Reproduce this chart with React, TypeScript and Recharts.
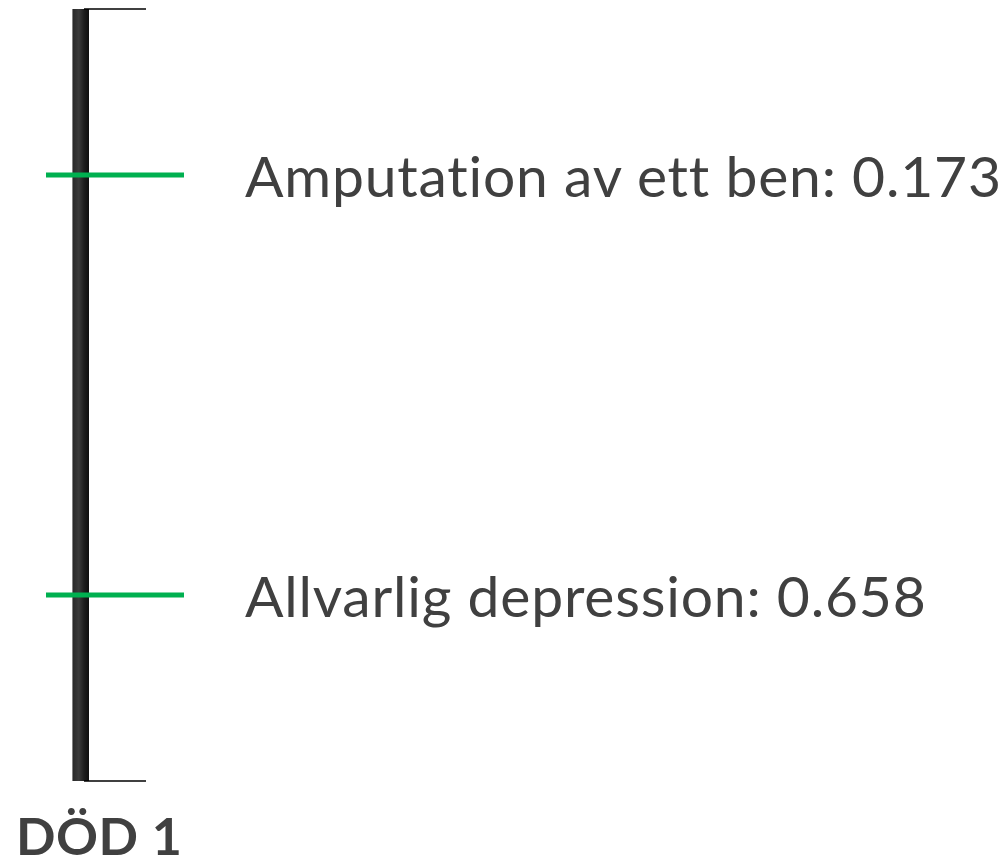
import {
  ComposedChart,
  XAxis,
  YAxis,
  Scatter,
  ReferenceArea,
  ReferenceLine,
} from "recharts";

// disability weights shown on the scale
const conditions = ["Amputation av ett ben", "Allvarlig depression"];
const weights = [0.173, 0.658];

const endLabel = "DÖD 1";

// value range covered by the drawn scale bar (top -> bottom)
const SCALE_TOP = -0.0187;
const SCALE_BOTTOM = 0.8728;

const TEXT = "#404040";
const GREEN = "#00B050";
const FONT = "Lato, 'Open Sans', sans-serif";

const MARK_X = 115;

const markers = conditions.map((name, i) => ({ name, weight: weights[i] }));

interface MarkerShapeProps {
  cx?: number;
  cy?: number;
  payload?: { name: string; weight: number };
}

function MarkerShape({ cx = 0, cy = 0, payload }: MarkerShapeProps) {
  if (!payload) return null;
  return (
    <g>
      <line x1={cx - 69} x2={cx + 69} y1={cy} y2={cy} stroke={GREEN} strokeWidth={5} />
      <text
        x={cx + 130}
        y={cy + 22}
        fill={TEXT}
        fontFamily={FONT}
        fontSize={57}
        letterSpacing={0.8}
        style={{ fontVariantLigatures: "none" }}
      >
        {`${payload.name}: ${payload.weight.toFixed(3)}`}
      </text>
    </g>
  );
}

export default function App() {
  return (
    <div style={{ position: "absolute", left: 0, top: 0, width: 1008, height: 866, background: "#fff" }}>
      <ComposedChart
        width={1008}
        height={866}
        data={markers}
        margin={{ top: 9, right: 0, bottom: 85, left: 0 }}
      >
        <defs>
          <linearGradient id="barGrad" x1="0" y1="0" x2="1" y2="0">
            <stop offset="0%" stopColor="#d8d8d8" />
            <stop offset="6%" stopColor="#2a2a2a" />
            <stop offset="40%" stopColor="#3b3b3b" />
            <stop offset="70%" stopColor="#1e1e1e" />
            <stop offset="100%" stopColor="#0e0e0e" />
          </linearGradient>
        </defs>
        <XAxis type="number" dataKey={() => MARK_X} domain={[0, 1008]} allowDataOverflow hide />
        <YAxis
          type="number"
          dataKey="weight"
          domain={[SCALE_TOP, SCALE_BOTTOM]}
          allowDataOverflow
          reversed
          hide
        />
        <ReferenceArea
          x1={72}
          x2={89}
          y1={SCALE_TOP}
          y2={SCALE_BOTTOM}
          fill="url(#barGrad)"
          fillOpacity={1}
          stroke="none"
        />
        <ReferenceLine
          segment={[
            { x: 84, y: SCALE_TOP },
            { x: 146, y: SCALE_TOP },
          ]}
          stroke="#000"
          strokeWidth={1.5}
        />
        <ReferenceLine
          segment={[
            { x: 84, y: SCALE_BOTTOM },
            { x: 146, y: SCALE_BOTTOM },
          ]}
          stroke="#000"
          strokeWidth={1.5}
        />
        <Scatter data={markers} shape={MarkerShape} isAnimationActive={false} />
        <text x={16} y={855} fill={TEXT} fontFamily={FONT} fontWeight={700} fontSize={52} letterSpacing={0.5}>
          {endLabel}
        </text>
      </ComposedChart>
    </div>
  );
}
